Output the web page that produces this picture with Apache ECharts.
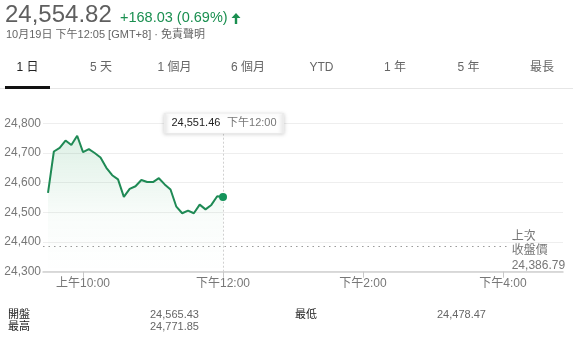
<!DOCTYPE html>
<html>
<head>
<meta charset="utf-8">
<script src="https://cdn.jsdelivr.net/npm/echarts@6/dist/echarts.min.js"></script>
<style>
html,body{margin:0;padding:0;background:#fff;}
#c{width:573px;height:349px;}
</style>
</head>
<body>
<div id="c"></div>
<script>
// ---- data ----
const times = ['09:30','09:35','09:40','09:45','09:50','09:55','10:00','10:05','10:10','10:15',
  '10:20','10:25','10:30','10:35','10:40','10:45','10:50','10:55','11:00','11:05',
  '11:10','11:15','11:20','11:25','11:30','11:35','11:40','11:45','11:50','11:55','12:00'];
const values = [24565.43, 24705, 24717, 24742, 24727, 24758, 24703, 24713, 24700, 24685,
  24650, 24625, 24611, 24552, 24579, 24588, 24609, 24602, 24602, 24615,
  24594, 24577, 24519, 24497, 24506, 24497, 24526, 24510, 24525, 24554, 24551.46];
const prevClose = 24386.79;
const xTickTimes = ['10:00','12:00','14:00','16:00'];
const xTickLabels = ['上午10:00','下午12:00','下午2:00','下午4:00'];
const tooltipTimeLabel = '下午12:00';
const headerPrice = '24,554.82';
const headerChange = '+168.03 (0.69%)';
const headerSub = '10月19日 下午12:05 [GMT+8] · 免責聲明';
const tabs = ['1 日','5 天','1 個月','6 個月','YTD','1 年','5 年','最長'];
const prevCloseLabel = ['上次','收盤價'];
const statNames = ['開盤','最高','最低'];
const statValues = ['24,565.43','24,771.85','24,478.47'];

// ---- helpers ----
const toMin = s => { const p = s.split(':'); return (+p[0]) * 60 + (+p[1]); };
const fmt = v => v.toLocaleString('en-US', {minimumFractionDigits: 2, maximumFractionDigits: 2});
const FONT = '"Liberation Sans", Arial, "Noto Sans CJK TC", sans-serif';
const GREEN_LINE = '#1f8a55';
const GREEN_DOT = '#14935a';
const XMIN = 565.7, XMAX = 1011.4;

const lineData = times.map((t, i) => [toMin(t), values[i]]);
const last = lineData[lineData.length - 1];
const xTickVals = xTickTimes.map(toMin);

const chart = echarts.init(document.getElementById('c'), null, {renderer: 'canvas'});

const graphics = [];
graphics.push({type:'text', left:5, top:3, style:{text:headerPrice, font:'24px ' + FONT, fill:'#5f5f5f'}});
graphics.push({type:'text', left:120, top:11, style:{text:headerChange, font:'14.5px ' + FONT, fill:'#1a8f50'}});
graphics.push({type:'polygon', shape:{points:[[236,13],[240.5,18],[237.2,18],[237.2,24],[234.8,24],[234.8,18],[231.5,18]]},
  style:{fill:'#1a8f50'}});
graphics.push({type:'text', left:6, top:29, style:{text:headerSub, font:'11px ' + FONT, fill:'#666'}});
tabs.forEach((t, i) => {
  graphics.push({type:'text', x: 27.5 + i * 73.5, y: 68,
    style:{text:t, font:'12px ' + FONT, fill: i === 0 ? '#222' : '#666', align:'center', verticalAlign:'middle'}});
});
graphics.push({type:'rect', shape:{x:0, y:88, width:573, height:1}, style:{fill:'#e6e6e6'}});
graphics.push({type:'rect', shape:{x:5, y:86, width:45, height:3}, style:{fill:'#111'}});
// stats table
const statPos = [[8,315,150],[8,327,150],[295,315,437]];
statNames.forEach((n, i) => {
  const p = statPos[i];
  graphics.push({type:'text', x:p[0], y:p[1], style:{text:n, font:'11px ' + FONT, fill:'#222', verticalAlign:'middle'}});
  graphics.push({type:'text', x:p[2], y:p[1], style:{text:statValues[i], font:'11px ' + FONT, fill:'#666', verticalAlign:'middle'}});
});

const option = {
  animation: false,
  textStyle: {fontFamily: FONT},
  grid: {left: 43, right: 10, top: 123.3, bottom: 77.3},
  xAxis: {
    type: 'value', min: XMIN, max: XMAX,
    axisLine: {show: true, lineStyle: {color: '#cfcfcf', width: 1.5}},
    axisTick: {show: true, customValues: xTickVals, length: 6, lineStyle: {color: '#c8c8c8'}},
    axisLabel: {show: true, customValues: xTickVals, margin: 6, fontSize: 12, color: '#777',
      formatter: v => xTickLabels[xTickVals.indexOf(v)] || ''},
    splitLine: {show: false}
  },
  yAxis: {
    type: 'value', min: 24300, max: 24800, interval: 100,
    axisLine: {show: false}, axisTick: {show: false},
    axisLabel: {fontSize: 12, color: '#777', margin: 2,
      formatter: v => v.toLocaleString('en-US')},
    splitLine: {lineStyle: {color: '#eeeeee'}}
  },
  graphic: graphics,
  series: [
    {
      type: 'line', data: lineData, symbol: 'none', z: 3,
      lineStyle: {color: GREEN_LINE, width: 2},
      areaStyle: {origin: 'start', color: new echarts.graphic.LinearGradient(0, 0, 0, 1, [
        {offset: 0, color: 'rgba(40,160,90,0.22)'},
        {offset: 0.6, color: 'rgba(40,160,90,0.04)'},
        {offset: 1, color: 'rgba(40,160,90,0)'}
      ])},
      markLine: {
        silent: true, symbol: 'none', animation: false,
        data: [
          [{coord: [XMIN, prevClose], lineStyle: {color: '#9a9a9a', type: [1.5, 4], width: 1.2},
            label: {show: true, position: 'end', distance: 4, offset: [0, 5],
              formatter: prevCloseLabel.join('\n') + '\n' + fmt(prevClose),
              color: '#777', fontSize: 12, lineHeight: 14.5, align: 'left'}},
           {coord: [964, prevClose]}],
          {xAxis: last[0], lineStyle: {color: '#d0d0d0', type: [2, 2], width: 1}, label: {show: false}}
        ]
      }
    },
    {
      type: 'scatter', data: [last], symbol: 'circle', symbolSize: 8, z: 5,
      itemStyle: {color: GREEN_DOT, opacity: 1}, silent: true
    },
    {
      type: 'scatter', data: [], z: 10, silent: true,
      markPoint: {
        silent: true, animation: false,
        data: [{coord: [last[0], 24800], symbol: 'rect', symbolSize: [118, 20], symbolOffset: [1, 0],
          itemStyle: {color: '#fff', borderColor: '#ececec', borderWidth: 1, opacity: 1,
            shadowBlur: 4, shadowColor: 'rgba(0,0,0,0.18)', shadowOffsetY: 1},
          label: {show: true, position: 'inside', offset: [0, 0],
            formatter: '{a|' + fmt(last[1]) + '}  {b|' + tooltipTimeLabel + '}',
            rich: {a: {color: '#222', fontSize: 11, fontFamily: FONT}, b: {color: '#777', fontSize: 11, fontFamily: FONT}}}
        }]
      }
    }
  ]
};
chart.setOption(option);
</script>
</body>
</html>
